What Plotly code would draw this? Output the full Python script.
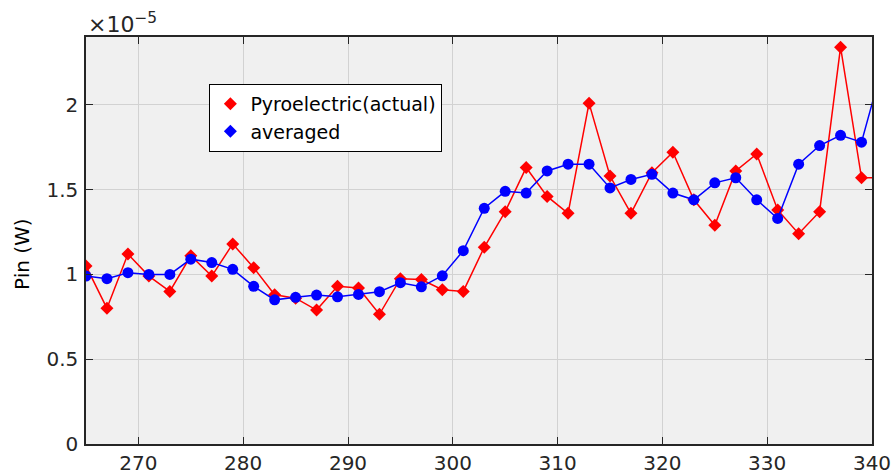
import plotly.graph_objects as go

# Wavelength samples (nm); the last sample lies just past the axis limit
x = [265, 267, 269, 271, 273, 275, 277, 279, 281, 283,
     285, 287, 289, 291, 293, 295, 297, 299, 301, 303,
     305, 307, 309, 311, 313, 315, 317, 319, 321, 323,
     325, 327, 329, 331, 333, 335, 337, 339, 341]

# Input power in units of 1e-5 W
pyro_actual = [1.05, 0.80, 1.12, 0.99, 0.90, 1.11, 0.99, 1.18, 1.04, 0.88,
               0.86, 0.79, 0.93, 0.92, 0.765, 0.975, 0.97, 0.91, 0.90, 1.16,
               1.37, 1.63, 1.46, 1.36, 2.01, 1.58, 1.36, 1.60, 1.72, 1.44,
               1.29, 1.61, 1.71, 1.38, 1.24, 1.37, 2.34, 1.57, 1.57]
averaged = [0.99, 0.975, 1.01, 1.00, 1.00, 1.09, 1.07, 1.03, 0.93, 0.85,
            0.865, 0.878, 0.868, 0.882, 0.898, 0.951, 0.927, 0.992, 1.14, 1.39,
            1.49, 1.48, 1.61, 1.65, 1.65, 1.51, 1.56, 1.59, 1.48, 1.44,
            1.54, 1.57, 1.44, 1.33, 1.65, 1.76, 1.82, 1.78, 2.23]

x_ticks = [270, 280, 290, 300, 310, 320, 330, 340]
y_ticks = [0, 0.5, 1, 1.5, 2]
y_tick_text = ["0", "0.5", "1", "1.5", "2"]

FONT = "DejaVu Sans"
AX = "#262626"
FS = 20

fig = go.Figure()
fig.add_trace(go.Scatter(
    x=x, y=pyro_actual, mode="lines+markers", showlegend=False,
    line=dict(color="#ff0000", width=1.5),
    marker=dict(symbol="diamond", size=10, color="#ff0000"),
))
fig.add_trace(go.Scatter(
    x=x, y=averaged, mode="lines+markers", showlegend=False,
    line=dict(color="#0000ff", width=1.5),
    marker=dict(symbol="circle", size=11, color="#0000ff"),
))
# legend entries show the marker only
fig.add_trace(go.Scatter(
    x=[None], y=[None], mode="markers", name="Pyroelectric(actual)",
    marker=dict(symbol="diamond", size=10, color="#ff0000"),
))
fig.add_trace(go.Scatter(
    x=[None], y=[None], mode="markers", name="averaged",
    marker=dict(symbol="diamond", size=10, color="#0000ff"),
))

axis_common = dict(
    showline=True, linecolor=AX, linewidth=1.5, mirror="ticks",
    ticks="inside", ticklen=7, tickcolor=AX, tickwidth=1,
    showgrid=True, gridcolor="#d2d2d2", gridwidth=1, zeroline=False,
    automargin=False,
    tickfont=dict(family=FONT, size=FS, color=AX),
)

fig.update_layout(
    width=894, height=475,
    margin=dict(l=86, r=22, t=37, b=31),
    paper_bgcolor="white", plot_bgcolor="#f0f0f0",
    font=dict(family=FONT, size=FS, color="black"),
    xaxis=dict(range=[265, 340], tickvals=x_ticks, ticklabelstandoff=0,
               **axis_common),
    yaxis=dict(range=[0, 2.4], tickvals=y_ticks, ticktext=y_tick_text,
               ticklabelstandoff=2, **axis_common),
    legend=dict(
        x=0.157, y=0.885, xanchor="left", yanchor="top",
        bgcolor="white", bordercolor="black", borderwidth=1,
        font=dict(family=FONT, size=19, color="black"),
        itemwidth=30, tracegroupgap=0,
    ),
    annotations=[
        dict(text="Pin (W)", textangle=-90, showarrow=False,
             xref="paper", yref="paper", x=-0.0814, y=0.467,
             xanchor="center", yanchor="middle",
             font=dict(family=FONT, size=FS, color="black")),
        dict(text="×10<sup>−5</sup>", showarrow=False,
             xref="paper", yref="paper", x=0.0, y=1.0,
             xanchor="left", yanchor="bottom", yshift=-2,
             font=dict(family=FONT, size=22, color=AX)),
    ],
)

fig.write_html("out.html")
